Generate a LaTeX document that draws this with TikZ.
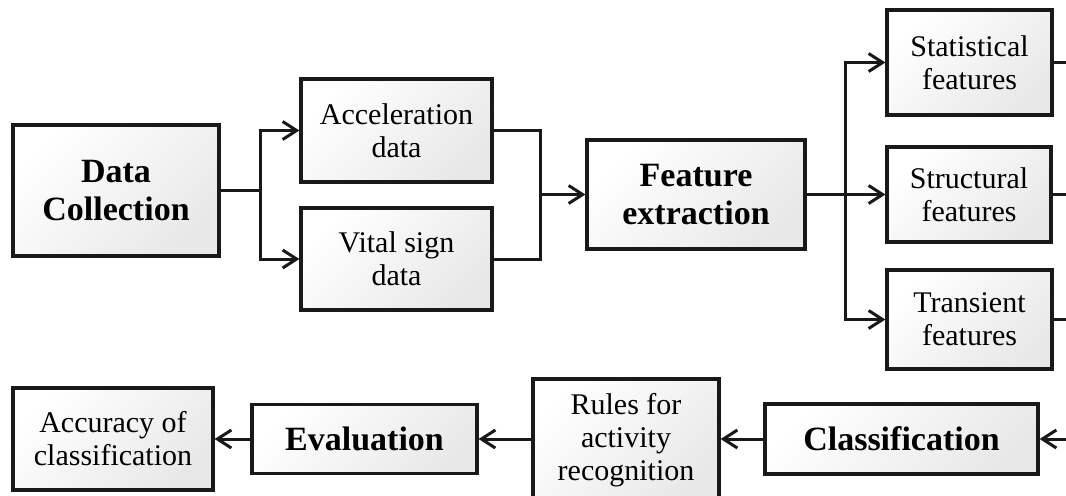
\documentclass[tikz,border=0pt]{standalone}
\usepackage{fontspec}
\setmainfont{Liberation Serif}
\usetikzlibrary{positioning,arrows.meta}
\tikzset{
  blk/.style={draw=black!90, line width=1.6pt, top color=white, bottom color=black!9, shading angle=45,
    align=center, inner sep=0pt, font=\fontsize{15}{16.5}\selectfont},
  bigblk/.style={blk, font=\fontsize{17}{19}\selectfont\bfseries},
  conn/.style={draw=black!90, line width=1.5pt},
  arr/.style={conn, -{Straight Barb[length=7pt,width=9pt]}},
}

\begin{document}
\begin{tikzpicture}[x=0.5pt,y=-0.5pt]
  \useasboundingbox (0,0) rectangle (1066,495);
  \coordinate (edge) at (1066,0); % right border of the figure

  % top row
  \node[bigblk, minimum width=103pt, minimum height=65.5pt] (data-c) at (116,190.5) {Data\\Collection}; %
  \node[blk, minimum width=95.5pt, minimum height=51.5pt] (accel) at (396.5,130.5) {Acceleration\\data}; %
  \node[blk, minimum width=95.5pt, minimum height=51pt] (vital) at (396.5,259) {Vital sign\\data}; %
  \node[bigblk, minimum width=109pt, minimum height=54.5pt] (feat-x) at (696,194.5) {Feature\\extraction}; %
  \node[blk, minimum width=82.5pt, minimum height=52.5pt] (stat-f) at (969.5,62.5) {Statistical\\features}; %
  \node[blk, minimum width=82pt, minimum height=47.5pt] (struct-f) at (969,194.5) {Structural\\features}; %
  \node[blk, minimum width=82.5pt, minimum height=49.5pt] (trans-f) at (969.5,319.5) {Transient\\features}; %

  % bottom row
  \node[bigblk, minimum width=136.5pt, minimum height=35pt] (classif) at (901.5,439) {Classification}; %
  \node[blk, minimum width=93pt, minimum height=61pt] (rules) at (626,440) {Rules for\\activity\\recognition}; %
  \node[bigblk, minimum width=112.5pt, minimum height=34.5pt] (eval) at (364.5,439) {Evaluation}; %
  \node[blk, minimum width=100pt, minimum height=51pt] (accur) at (113,439) {Accuracy of\\classification}; %

  % data collection splits in two
  \coordinate (split-a) at (260,190.5); %
  \draw[conn] (data-c.east) -- (split-a); %
  \draw[arr] (split-a) |- (accel.west); %
  \draw[arr] (split-a) |- (vital.west); %

  % both streams go to feature extraction
  \coordinate (join-a) at (540,194.5); %
  \draw[conn] (accel.east) -| (join-a); %
  \draw[conn] (vital.east) -| (join-a); %
  \draw[arr] (join-a) -- (feat-x.west); %

  % three kinds of features
  \coordinate (split-b) at (845,194.5); %
  \draw[conn] (feat-x.east) -- (split-b); %
  \draw[arr] (split-b) |- (stat-f.west); %
  \draw[arr] (split-b) -- (struct-f.west); %
  \draw[arr] (split-b) |- (trans-f.west); %
  \draw[conn] (stat-f.east) -- (stat-f.east -| edge); %
  \draw[conn] (struct-f.east) -- (struct-f.east -| edge); %
  \draw[conn] (trans-f.east) -- (trans-f.east -| edge); %

  % back along the bottom
  \draw[arr] (classif.east -| edge) -- (classif.east); %
  \draw[arr] (classif.west) -- (classif.west -| rules.east); %
  \draw[arr] (rules.west |- eval.east) -- (eval.east); %
  \draw[arr] (eval.west) -- (accur.east); %
\end{tikzpicture}
\end{document}
